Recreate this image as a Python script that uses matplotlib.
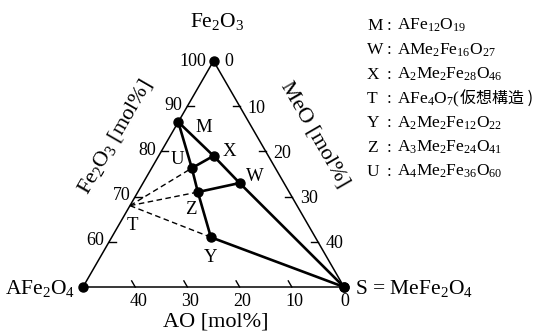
import numpy as np
import matplotlib
matplotlib.use("Agg")
import matplotlib.pyplot as plt

plt.rcParams['font.family'] = ['Liberation Serif', 'Noto Sans CJK JP']
plt.rcParams['mathtext.fontset'] = 'custom'
plt.rcParams['mathtext.rm'] = 'Liberation Serif'
plt.rcParams['mathtext.it'] = 'Liberation Serif:italic'
plt.rcParams['mathtext.bf'] = 'Liberation Serif:bold'

# --- data (mol%) ---
points = ['M', 'X', 'W', 'U', 'Z', 'Y', 'T', 'S']
ao_pct = [13.5, 10.5, 8.5, 16.0, 17.5, 20.0, 32.0, 0.0]
meo_pct = [0.0, 10.5, 18.5, 7.7, 11.5, 19.0, 0.0, 50.0]
fe2o3_pct = [86.5, 79.0, 73.0, 76.3, 71.0, 61.0, 68.0, 50.0]

# corners: Fe2O3, AFe2O4, S = MeFe2O4
corner_ao = [0, 50, 0]
corner_meo = [0, 0, 50]
corner_fe = [100, 50, 50]

solid_links = [('M', 'U'), ('U', 'Z'), ('Z', 'Y'), ('Y', 'S'),
               ('M', 'X'), ('X', 'W'), ('W', 'S'), ('U', 'X'), ('Z', 'W')]
dashed_links = [('T', 'U'), ('T', 'Z'), ('T', 'Y')]

fe_ticks = [60, 70, 80, 90]
meo_ticks = [10, 20, 30, 40]
ao_ticks = [40, 30, 20, 10]

legend_keys = ['M', 'W', 'X', 'T', 'Y', 'Z', 'U']
legend_formulas = [r'$\mathrm{AFe_{12}O_{19}}$',
                   r'$\mathrm{AMe_2Fe_{16}O_{27}}$',
                   r'$\mathrm{A_2Me_2Fe_{28}O_{46}}$',
                   r'$\mathrm{AFe_4O_7}$(',
                   r'$\mathrm{A_2Me_2Fe_{12}O_{22}}$',
                   r'$\mathrm{A_3Me_2Fe_{24}O_{41}}$',
                   r'$\mathrm{A_4Me_2Fe_{36}O_{60}}$']
t_note = '仮想構造 )'

W_PX, H_PX = 557, 333


def tern(ao, meo, fe):
    ao, meo, fe = (np.asarray(v, dtype=float) for v in (ao, meo, fe))
    tot = ao + meo + fe
    meo, fe = meo / tot * 100, fe / tot * 100
    return meo + fe / 2, fe * np.sqrt(3) / 2


def fpx(x, y):
    # pixel position (from top-left) -> figure fraction
    return x / W_PX, 1 - y / H_PX


fig = plt.figure(figsize=(5.57, 3.33), dpi=100)
ax = fig.add_axes([0, 0, 1, 1])
ax.set_xlim(9.10, 115.80)
ax.set_ylim(34.49, 98.28)
ax.set_aspect('equal')
ax.axis('off')

# triangle
cx, cy = tern(corner_ao, corner_meo, corner_fe)
ax.plot(np.append(cx, cx[0]), np.append(cy, cy[0]), color='black', lw=1.1, zorder=2)
ax.plot(cx, cy, 'o', color='black', ms=6.5, zorder=5)

px, py = tern(ao_pct, meo_pct, fe2o3_pct)
pos = {n: (px[i], py[i]) for i, n in enumerate(points)}

for a, b in solid_links:
    ax.plot([pos[a][0], pos[b][0]], [pos[a][1], pos[b][1]], color='black', lw=1.9,
            solid_capstyle='round', zorder=3)
for a, b in dashed_links:
    ax.plot([pos[a][0], pos[b][0]], [pos[a][1], pos[b][1]], color='black', lw=1.0,
            dashes=(4, 2.5), zorder=3)

for n in points:
    if n != 'T':
        ax.plot(*pos[n], 'o', color='black', ms=6.5, zorder=5)

label_off = {'M': (25, -4), 'X': (16, 6), 'W': (15, 9), 'U': (-14, 11),
             'Z': (-7, -15), 'Y': (0, -18), 'T': (2, -18)}
for n, off in label_off.items():
    ax.annotate(n, pos[n], xytext=off, textcoords='offset pixels',
                ha='center', va='center_baseline', fontsize=13.5)

# ticks and tick labels
L = 1.35
for f in fe_ticks:
    x, y = tern(100 - f, 0, f)
    ax.plot([x, x + L], [y, y], color='black', lw=1.0)
    ax.annotate(str(f), (x, y), xytext=(-5, 3), textcoords='offset pixels',
                ha='right', va='center_baseline', fontsize=13)
x, y = tern(0, 0, 100)
ax.annotate('100', (x, y), xytext=(-7, 1), textcoords='offset pixels',
            ha='right', va='center_baseline', fontsize=13)
ax.annotate('0', (x, y), xytext=(11, 1), textcoords='offset pixels',
            ha='left', va='center_baseline', fontsize=13)

for m in meo_ticks:
    x, y = tern(0, m, 100 - m)
    ax.plot([x, x - L], [y, y], color='black', lw=1.0)
    ax.annotate(str(m), (x, y), xytext=(8, 0), textcoords='offset pixels',
                ha='left', va='center_baseline', fontsize=13)

for a in ao_ticks + [0]:
    x, y = tern(a, 50 - a, 50)
    if a:
        ax.plot([x, x - L * 0.5], [y, y + L * np.sqrt(3) / 2], color='black', lw=1.0)
    ax.annotate(str(a), (x, y), xytext=(3 if a else 1, -6), textcoords='offset pixels',
                ha='center', va='top', fontsize=13)

# vertex and axis titles
fig.text(*fpx(217, 27), r'$\mathrm{Fe_2O_3}$', ha='center', va='baseline', fontsize=15.5)
fig.text(*fpx(75, 294), r'$\mathrm{AFe_2O_4}$', ha='right', va='baseline', fontsize=15.5)
fig.text(*fpx(355, 294), r'S = $\mathrm{MeFe_2O_4}$', ha='left', va='baseline', fontsize=15.5)
fig.text(*fpx(216, 322), 'AO [mol%]', ha='center', va='center', fontsize=16)
fig.text(*fpx(115, 137), r'$\mathrm{Fe_2O_3}$ [mol%]', ha='center', va='center',
         rotation=60, rotation_mode='anchor', fontsize=16)
fig.text(*fpx(315, 135), 'MeO [mol%]', ha='center', va='center',
         rotation=-60, rotation_mode='anchor', fontsize=16)

# legend of compositions
for i, (k, form) in enumerate(zip(legend_keys, legend_formulas)):
    yb = 30 + 24.3 * i
    fig.text(*fpx(367, yb), k, ha='left', va='baseline', fontsize=12.5)
    fig.text(*fpx(389, yb), ':', ha='center', va='baseline', fontsize=12.5)
    t = fig.text(*fpx(397, yb), form, ha='left', va='baseline', fontsize=12.5)
    if k == 'T':
        ax.annotate(t_note, xy=(1, fpx(0, yb)[1]), xycoords=(t, 'figure fraction'),
                    ha='left', va='baseline', fontsize=11.5, family='Noto Sans CJK JP')

fig.savefig('out.png', dpi=100)
